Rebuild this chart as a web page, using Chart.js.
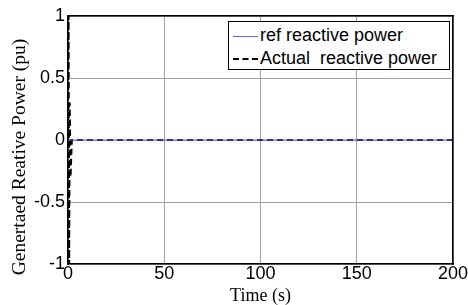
<!DOCTYPE html>
<html>
<head>
<meta charset="utf-8">
<script src="https://cdn.jsdelivr.net/npm/chart.js@4"></script>
<style>
  body { margin: 0; background: #fff; }
  #wrap { position: relative; width: 468px; height: 305px; }
  #legend {
    position: absolute; left: 228px; top: 21px; width: 220px; height: 47px;
    border: 1px solid #000; background: #fff;
    font: 18px "Liberation Sans", Arial, sans-serif; color: #000;
  }
  .row { position: absolute; left: 4px; height: 22px; line-height: 22px; white-space: pre; }
  .swatch { display: inline-block; width: 25px; vertical-align: middle; margin-right: 2px; }
</style>
</head>
<body>
<div id="wrap">
  <canvas id="chart" width="468" height="305"></canvas>
  <div id="legend">
    <div class="row" style="top:2px"><span class="swatch" style="border-top:1px solid #6464ff"></span>ref reactive power</div>
    <div class="row" style="top:25px"><span class="swatch" style="border-top:2px dashed #000"></span>Actual  reactive power</div>
  </div>
</div>
<script>
// ===== Data =====
const timeRef = [0, 200];
const refPower = [0, 0];
const timeActual = [0, 0.3, 0.6, 0.9, 1.3, 2, 200];
const actualPower = [0, 1, -1, 0.3, -0.3, 0, 0];
const xTicks = [0, 50, 100, 150, 200];
const yTicks = [-1, -0.5, 0, 0.5, 1];

const toPoints = (xs, ys) => xs.map((x, i) => ({ x: x, y: ys[i] }));

// ===== Axis titles =====
const titlesPlugin = {
  id: 'titles',
  afterDraw(chart) {
    const { ctx, chartArea: a } = chart;
    ctx.save();
    ctx.fillStyle = '#000';
    ctx.font = '18px "Liberation Serif", "Times New Roman", serif';
    ctx.textAlign = 'center';
    ctx.textBaseline = 'middle';
    ctx.fillText('Time (s)', (a.left + a.right) / 2, 296);
    ctx.translate(20, 157);
    ctx.rotate(-Math.PI / 2);
    ctx.font = '19.5px "Liberation Serif", "Times New Roman", serif';
    ctx.fillText('Genertaed Reative Power (pu)', 0, 0);
    ctx.restore();
  }
};

const tickFont = { family: '"Liberation Sans", Arial, sans-serif', size: 18 };
const frameBorder = { display: true, color: '#000', width: 1.5, z: 5 };

// empty axes on top and right only to close the box
const edgeAxis = (pos, horizontal) => ({
  type: 'linear',
  position: pos,
  min: horizontal ? 0 : -1,
  max: horizontal ? 200 : 1,
  grid: { display: false, drawOnChartArea: false, drawTicks: false },
  border: frameBorder,
  ticks: { display: false },
  afterFit: s => { if (horizontal) s.height = 0; else s.width = 0; }
});

new Chart(document.getElementById('chart'), {
  type: 'scatter',
  data: {
    datasets: [
      {
        label: 'ref reactive power',
        data: toPoints(timeRef, refPower),
        showLine: true,
        borderColor: '#6464ff',
        borderWidth: 1,
        pointRadius: 0
      },
      {
        label: 'Actual  reactive power',
        data: toPoints(timeActual, actualPower),
        showLine: true,
        borderColor: '#000',
        borderWidth: 2,
        borderDash: [6, 4],
        pointRadius: 0
      }
    ]
  },
  options: {
    responsive: false,
    animation: false,
    layout: { padding: { top: 16, right: 15, left: 0, bottom: 0 } },
    plugins: { legend: { display: false }, tooltip: { enabled: false } },
    scales: {
      x: {
        type: 'linear', position: 'bottom', min: 0, max: 200,
        afterBuildTicks: s => { s.ticks = xTicks.map(v => ({ value: v })); },
        afterFit: s => { s.height = 41; },
        grid: { color: '#a0a0a0', drawTicks: false },
        border: frameBorder,
        ticks: { color: '#000', font: tickFont, padding: -1, maxRotation: 0 }
      },
      y: {
        position: 'left', min: -1, max: 1,
        afterBuildTicks: s => { s.ticks = yTicks.map(v => ({ value: v })); },
        afterFit: s => { s.width = 68; },
        grid: { color: '#a0a0a0', drawTicks: false },
        border: frameBorder,
        ticks: { color: '#000', font: tickFont, padding: 3, callback: v => String(v) }
      },
      xTop: edgeAxis('top', true),
      yRight: edgeAxis('right', false)
    }
  },
  plugins: [titlesPlugin]
});
</script>
</body>
</html>
